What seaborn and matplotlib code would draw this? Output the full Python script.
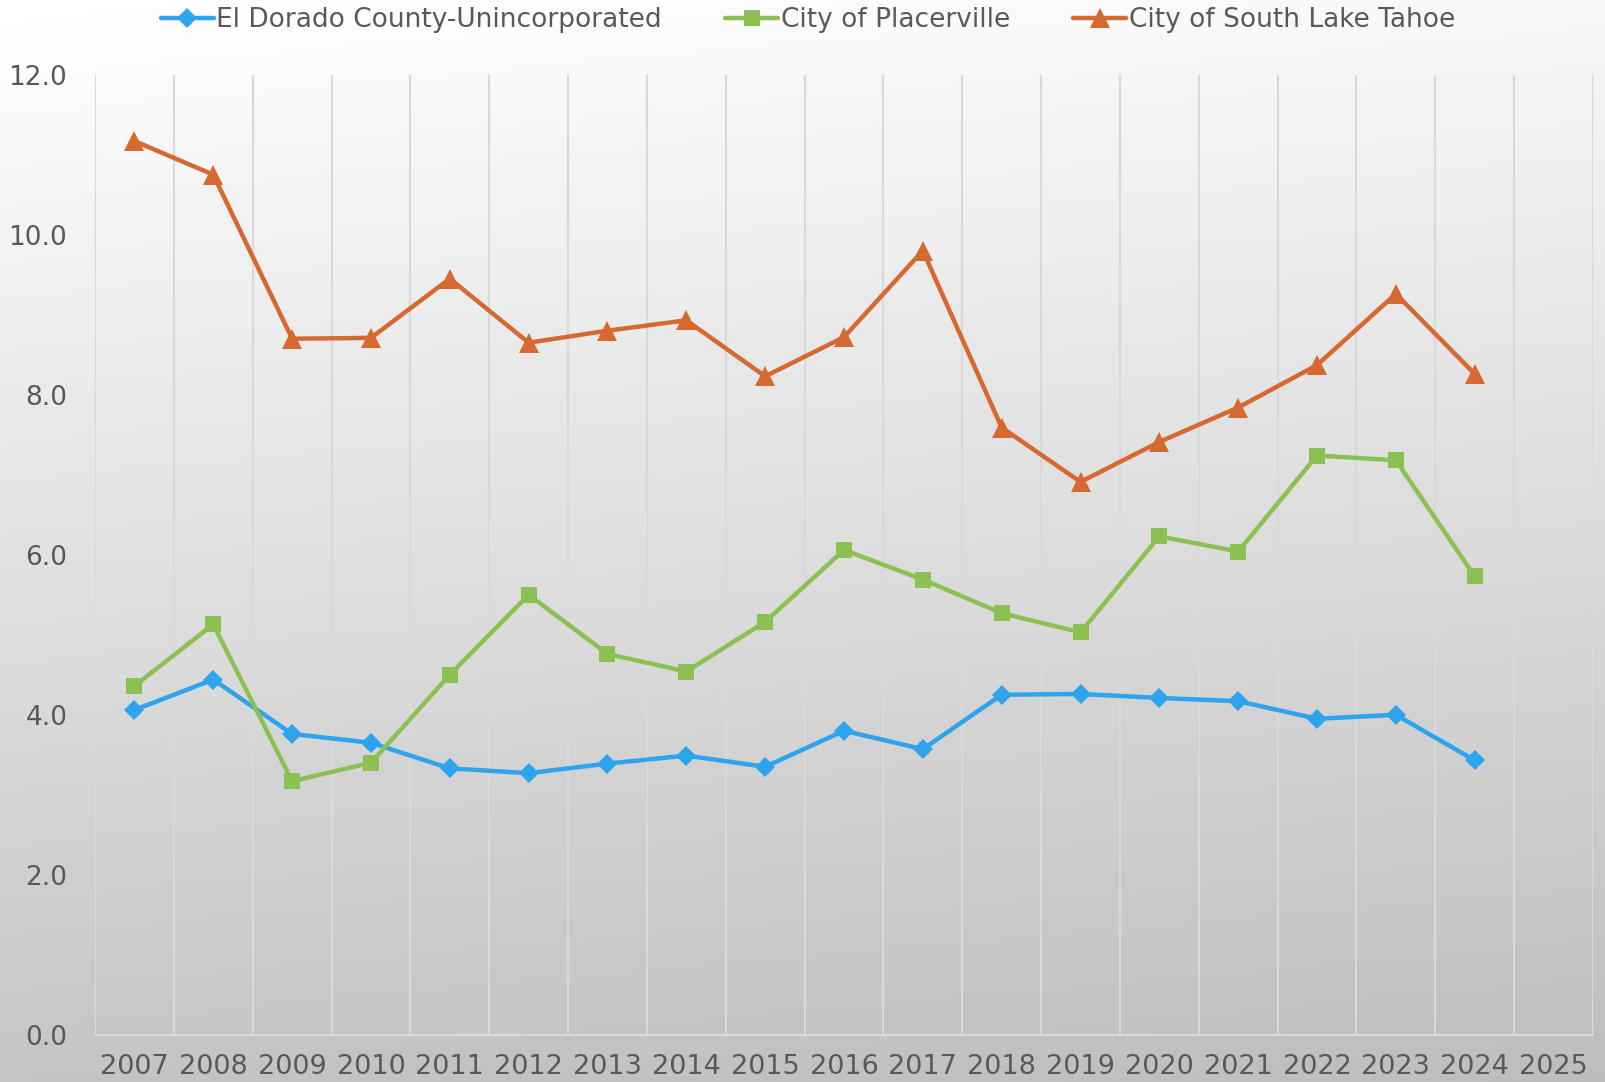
import numpy as np
import pandas as pd
import matplotlib
matplotlib.use("Agg")
import matplotlib.pyplot as plt
import seaborn as sns
from matplotlib.ticker import FixedLocator, FixedFormatter

years = [str(y) for y in range(2007, 2026)]
data_years = years[:-1]
el_dorado = [4.06, 4.44, 3.76, 3.65, 3.33, 3.27, 3.39, 3.49, 3.35, 3.80, 3.57, 4.25, 4.26, 4.21, 4.17, 3.95, 4.00, 3.43]
placerville = [4.36, 5.13, 3.17, 3.40, 4.50, 5.50, 4.76, 4.54, 5.16, 6.06, 5.69, 5.27, 5.03, 6.23, 6.04, 7.24, 7.18, 5.73]
south_lake = [11.17, 10.75, 8.70, 8.71, 9.45, 8.65, 8.80, 8.93, 8.23, 8.72, 9.80, 7.59, 6.91, 7.41, 7.84, 8.37, 9.26, 8.26]
series_names = ["El Dorado County-Unincorporated", "City of Placerville", "City of South Lake Tahoe"]
y_ticks = [0, 2, 4, 6, 8, 10, 12]

sns.set_theme(style="white")
plt.rcParams['font.family'] = ['DejaVu Sans']

fig = plt.figure(figsize=(16.05, 10.82), dpi=100)

# background gradient
bg = fig.add_axes([0, 0, 1, 1], zorder=-10)
yy, xx = np.mgrid[0:1:200j, 0:1:200j]
grad = 1.0 - (0.23 * yy + 0.03 * xx)
bg.imshow(grad, cmap="gray", vmin=0, vmax=1, aspect="auto", extent=[0, 1, 0, 1], origin="upper")
bg.axis("off")

ax = fig.add_axes([0.0592, 0.0436, 0.9333, 0.8874])
ax.patch.set_alpha(0)

df = pd.DataFrame({"x": np.arange(len(data_years)),
                   series_names[0]: el_dorado,
                   series_names[1]: placerville,
                   series_names[2]: south_lake})
colors = ["#2EA3EE", "#8BC152", "#D5692F"]
markers = ["D", "s", "^"]
msizes = [10, 12, 14]
for name, c, m, ms in zip(series_names, colors, markers, msizes):
    sns.lineplot(data=df, x="x", y=name, ax=ax, color=c, marker=m, markersize=ms,
                 markeredgewidth=0, linewidth=3.2, label=name)

ax.set_xlim(-0.5, len(years) - 0.5)
ax.set_ylim(0, 12)
ax.xaxis.set_major_locator(FixedLocator(np.arange(len(years))))
ax.xaxis.set_major_formatter(FixedFormatter(years))
ax.xaxis.set_minor_locator(FixedLocator(np.arange(len(years) + 1) - 0.5))
ax.set_yticks(y_ticks)
ax.set_yticklabels([f"{v:.1f}" for v in y_ticks])
ax.grid(False)
ax.grid(which="minor", axis="x", color="#d9d9d9", linewidth=1.5)
ax.tick_params(axis="both", which="both", length=0)
ax.tick_params(axis="x", labelsize=19.5, pad=14, colors="#595959")
ax.tick_params(axis="y", labelsize=19, pad=20, colors="#595959")
for s in ["top", "right", "left"]:
    ax.spines[s].set_visible(False)
ax.spines["bottom"].set_color("#d9d9d9")
ax.spines["bottom"].set_linewidth(1.5)
ax.set_xlabel("")
ax.set_ylabel("")

ax.legend(loc="upper center", bbox_to_anchor=(0.476, 1.095), ncol=3, frameon=False,
          fontsize=19, labelcolor="#595959", handlelength=2.0, handletextpad=0.1,
          columnspacing=2.4)

fig.savefig("out.png", dpi=100)
